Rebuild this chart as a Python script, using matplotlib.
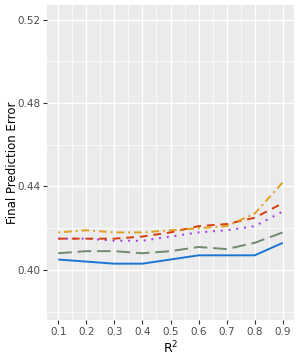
import matplotlib
matplotlib.use("Agg")
import matplotlib.pyplot as plt
from matplotlib.ticker import MultipleLocator

# values
r2 = [0.1, 0.2, 0.3, 0.4, 0.5, 0.6, 0.7, 0.8, 0.9]
fpe_solid = [0.405, 0.404, 0.403, 0.403, 0.405, 0.407, 0.407, 0.407, 0.413]
fpe_longdash = [0.408, 0.409, 0.409, 0.408, 0.409, 0.411, 0.410, 0.413, 0.418]
fpe_dotted = [0.415, 0.415, 0.414, 0.414, 0.416, 0.418, 0.419, 0.421, 0.428]
fpe_dashed = [0.415, 0.415, 0.415, 0.416, 0.418, 0.421, 0.422, 0.425, 0.432]
fpe_dotdash = [0.418, 0.419, 0.418, 0.418, 0.419, 0.420, 0.421, 0.427, 0.442]

fig = plt.figure(figsize=(3.0, 3.6), dpi=100)
ax = fig.add_axes([47 / 300, 1 - 320 / 360, 247 / 300, 315 / 360])
ax.set_facecolor("#EBEBEB")
for s in ax.spines.values():
    s.set_visible(False)

ax.plot(r2, fpe_solid, color="#1A74D4", lw=1.4, solid_capstyle="butt")
ax.plot(r2, fpe_longdash, color="#6E8B6E", lw=1.4, dashes=(7, 3))
ax.plot(r2, fpe_dotted, color="#A335E8", lw=1.4, dashes=(1, 3))
ax.plot(r2, fpe_dashed, color="#D43D0A", lw=1.4, dashes=(4, 3))
ax.plot(r2, fpe_dotdash, color="#E0A020", lw=1.4, dashes=(1, 2, 4, 2))

ax.set_xlim(0.06, 0.94)
ax.set_ylim(0.376, 0.527)
ax.set_xticks(r2)
ax.set_xticklabels([f"{v:.1f}" for v in r2])
ax.set_yticks([0.40, 0.44, 0.48, 0.52])
ax.set_yticklabels(["0.40", "0.44", "0.48", "0.52"])
ax.xaxis.set_minor_locator(MultipleLocator(0.1, offset=0.05))
ax.yaxis.set_minor_locator(MultipleLocator(0.04, offset=0.02))

ax.grid(True, which="major", color="white", lw=1.0)
ax.grid(True, which="minor", color="white", lw=0.5)
ax.set_axisbelow(True)
ax.tick_params(which="major", length=3, color="#333333", labelsize=7.5,
               labelcolor="#4D4D4D", pad=2)
ax.tick_params(which="minor", length=0)

ax.set_xlabel("R$^2$", fontsize=9, labelpad=2)
ax.set_ylabel("Final Prediction Error", fontsize=8.5)
ax.yaxis.set_label_coords(-0.115, 0.5)

fig.savefig("out.png", dpi=100)
